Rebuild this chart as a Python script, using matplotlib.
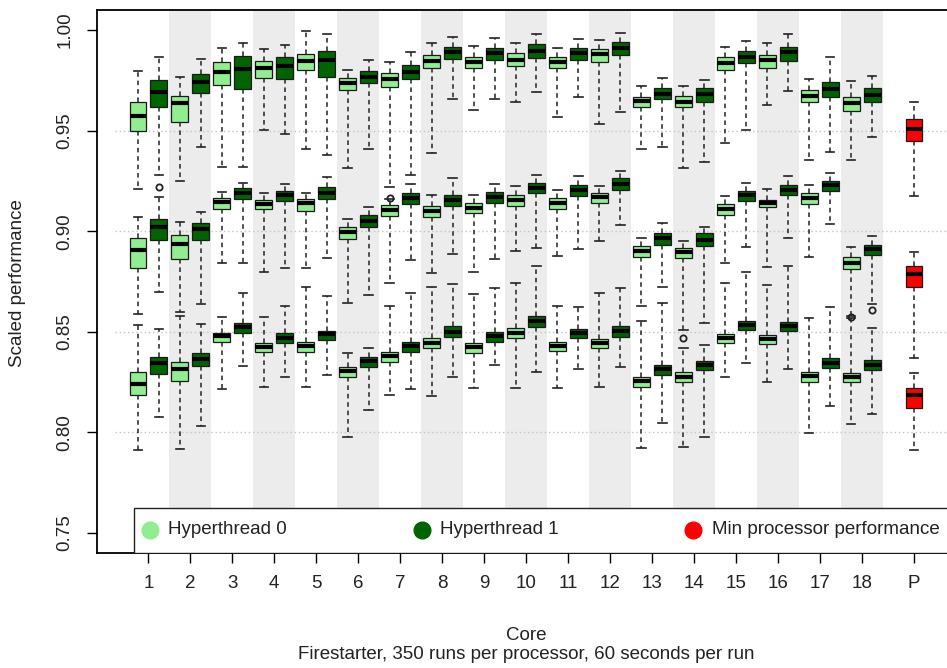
import matplotlib
matplotlib.use("Agg")
import matplotlib.pyplot as plt
from matplotlib.patches import Rectangle
import numpy as np

plt.rcParams['font.family'] = ['Liberation Sans', 'DejaVu Sans']

# core labels on the x axis
core_labels = [str(i) for i in range(1, 19)] + ["P"]

# box stats per core: (whisker low, q1, median, q3, whisker high)
hi_ht0 = [(0.921, 0.9498, 0.9573, 0.9642, 0.9796), (0.925, 0.9543, 0.9637, 0.9672, 0.9766),
          (0.932, 0.9727, 0.9791, 0.9841, 0.9911), (0.9503, 0.9762, 0.9811, 0.9846, 0.9906),
          (0.9409, 0.9801, 0.9846, 0.9881, 0.9995), (0.9314, 0.9702, 0.9737, 0.9762, 0.9801),
          (0.922, 0.9717, 0.9756, 0.9786, 0.9841), (0.9389, 0.9811, 0.9846, 0.9876, 0.9935),
          (0.9602, 0.9811, 0.9841, 0.9866, 0.992), (0.9642, 0.9821, 0.9851, 0.9886, 0.9935),
          (0.9568, 0.9811, 0.9841, 0.9866, 0.9911), (0.9533, 0.9841, 0.9881, 0.9906, 0.995),
          (0.9409, 0.9617, 0.9647, 0.9667, 0.9722), (0.9314, 0.9617, 0.9642, 0.9672, 0.9722),
          (0.9438, 0.9801, 0.9836, 0.9866, 0.9916), (0.9627, 0.9811, 0.9851, 0.9876, 0.9935),
          (0.9354, 0.9642, 0.9672, 0.9702, 0.9756), (0.9354, 0.9597, 0.9637, 0.9667, 0.9746)]
hi_ht1 = [(0.928, 0.9617, 0.9692, 0.9752, 0.9866), (0.9419, 0.9687, 0.9742, 0.9781, 0.9856),
          (0.932, 0.9707, 0.9806, 0.9871, 0.9935), (0.9483, 0.9756, 0.9821, 0.9866, 0.9925),
          (0.9379, 0.9766, 0.9851, 0.9896, 0.998), (0.9409, 0.9737, 0.9766, 0.9796, 0.9851),
          (0.9279, 0.9756, 0.9791, 0.9826, 0.9891), (0.9657, 0.9856, 0.9891, 0.9916, 0.9965),
          (0.9657, 0.9851, 0.9886, 0.9911, 0.996), (0.9692, 0.9861, 0.9896, 0.993, 0.998),
          (0.9667, 0.9851, 0.9886, 0.9911, 0.9955), (0.9592, 0.9876, 0.9911, 0.994, 0.9985),
          (0.9418, 0.9657, 0.9682, 0.9712, 0.9761), (0.9344, 0.9642, 0.9682, 0.9712, 0.9751),
          (0.9503, 0.9836, 0.9866, 0.9896, 0.9945), (0.9697, 0.9846, 0.9891, 0.9916, 0.998),
          (0.9394, 0.9667, 0.9707, 0.9742, 0.9866), (0.9468, 0.9642, 0.9677, 0.9712, 0.9771)]
mid_ht0 = [(0.8588, 0.8815, 0.8907, 0.8968, 0.9072), (0.8600, 0.886, 0.8936, 0.8981, 0.9047),
           (0.8844, 0.9109, 0.9144, 0.9163, 0.9197), (0.8799, 0.9109, 0.9134, 0.9155, 0.9192),
           (0.8815, 0.9102, 0.9139, 0.9158, 0.9188), (0.8645, 0.896, 0.8998, 0.9023, 0.9059),
           (0.8744, 0.9076, 0.9105, 0.913, 0.916), (0.8794, 0.9072, 0.91, 0.9125, 0.918),
           (0.8799, 0.9089, 0.9114, 0.9139, 0.918), (0.8903, 0.9125, 0.9155, 0.918, 0.9225),
           (0.8877, 0.9109, 0.9139, 0.9163, 0.9205), (0.8953, 0.9139, 0.9168, 0.9192, 0.9225),
           (0.8628, 0.887, 0.8903, 0.8926, 0.8965), (0.851, 0.8865, 0.8898, 0.8915, 0.8951),
           (0.8844, 0.9081, 0.9109, 0.9134, 0.9175), (0.8824, 0.9119, 0.9139, 0.9155, 0.9208),
           (0.8873, 0.9135, 0.9163, 0.9188, 0.923), (0.858, 0.881, 0.884, 0.887, 0.892)]
mid_ht1 = [(0.8699, 0.8956, 0.9023, 0.906, 0.917), (0.8636, 0.8956, 0.9009, 0.9039, 0.9097),
           (0.884, 0.9158, 0.9188, 0.9213, 0.9241), (0.8815, 0.9152, 0.918, 0.9202, 0.9235),
           (0.8865, 0.9158, 0.9192, 0.9221, 0.9271), (0.8683, 0.9023, 0.9052, 0.9081, 0.9122),
           (0.8857, 0.9135, 0.9163, 0.9188, 0.9235), (0.8887, 0.9125, 0.9155, 0.918, 0.9263),
           (0.886, 0.9142, 0.9172, 0.9197, 0.9235), (0.8915, 0.9188, 0.9213, 0.9241, 0.9279),
           (0.8912, 0.9175, 0.9205, 0.923, 0.9274), (0.9031, 0.9205, 0.9235, 0.9263, 0.9301),
           (0.8724, 0.8931, 0.8965, 0.8993, 0.9039), (0.8542, 0.8926, 0.8956, 0.8989, 0.9023),
           (0.8923, 0.9152, 0.918, 0.9202, 0.9238), (0.8965, 0.918, 0.9205, 0.923, 0.9274),
           (0.9036, 0.9202, 0.923, 0.9251, 0.9291), (0.864, 0.8882, 0.891, 0.8931, 0.8976)]
lo_ht0 = [(0.7912, 0.8186, 0.824, 0.8302, 0.8534), (0.7915, 0.8255, 0.8313, 0.8351, 0.858),
          (0.8214, 0.8451, 0.8479, 0.8496, 0.8575), (0.8224, 0.8401, 0.8426, 0.8446, 0.8572),
          (0.8227, 0.8401, 0.8431, 0.8451, 0.8721), (0.7979, 0.8277, 0.8307, 0.8327, 0.8396),
          (0.8186, 0.8351, 0.8381, 0.8401, 0.8628), (0.818, 0.8418, 0.8443, 0.8467, 0.8721),
          (0.8219, 0.8396, 0.8423, 0.8443, 0.8688), (0.8219, 0.8467, 0.8496, 0.8517, 0.8741),
          (0.8219, 0.8404, 0.8431, 0.8451, 0.8628), (0.8224, 0.8418, 0.8443, 0.8462, 0.8691),
          (0.792, 0.8227, 0.8257, 0.8273, 0.8555), (0.7929, 0.8252, 0.8277, 0.8302, 0.842),
          (0.8273, 0.8443, 0.8467, 0.8489, 0.8741), (0.8252, 0.8439, 0.8462, 0.8484, 0.8733),
          (0.7999, 0.8252, 0.828, 0.8302, 0.857), (0.8042, 0.8252, 0.8277, 0.8297, 0.857)]
lo_ht1 = [(0.8078, 0.829, 0.8347, 0.8373, 0.8512), (0.8032, 0.833, 0.8363, 0.8396, 0.8539),
          (0.833, 0.8496, 0.8525, 0.8542, 0.8691), (0.8277, 0.8443, 0.8471, 0.8492, 0.8628),
          (0.8285, 0.8459, 0.8487, 0.8506, 0.8678), (0.8111, 0.8323, 0.8355, 0.8376, 0.8421),
          (0.8214, 0.8401, 0.8429, 0.8451, 0.8694), (0.8273, 0.8472, 0.8501, 0.8529, 0.8738),
          (0.8335, 0.8451, 0.8479, 0.8501, 0.8716), (0.8302, 0.8525, 0.8555, 0.8578, 0.8827),
          (0.8313, 0.8467, 0.8492, 0.8514, 0.8621), (0.8327, 0.8476, 0.8504, 0.8529, 0.8716),
          (0.8048, 0.8285, 0.8313, 0.8335, 0.8645), (0.7979, 0.831, 0.8335, 0.8357, 0.8434),
          (0.8347, 0.8509, 0.8534, 0.8555, 0.8799), (0.8315, 0.8506, 0.853, 0.855, 0.8827),
          (0.8131, 0.8318, 0.8347, 0.8368, 0.8621), (0.8091, 0.831, 0.8335, 0.836, 0.852)]
# min processor performance, one box per band
proc_min = [(0.9175, 0.9448, 0.9508, 0.9558, 0.9642),
            (0.8371, 0.8724, 0.8787, 0.8827, 0.8898),
            (0.7912, 0.812, 0.8186, 0.8219, 0.8297)]

# outliers: (band rows, core number, value)
outliers = [(mid_ht1, 1, 0.922), (mid_ht0, 7, 0.9165), (mid_ht0, 14, 0.847),
            (mid_ht1, 18, 0.861), (lo_ht0, 18, 0.8575)]

ht0_color = "#90EE90"
ht1_color = "#006400"
proc_color = "#FF0000"


def to_stats(rows):
    out = []
    for i, (lo, q1, med, q3, hi) in enumerate(rows):
        fl = [v for r, c, v in outliers if r is rows and c == i + 1]
        out.append(dict(whislo=lo, q1=q1, med=med, q3=q3, whishi=hi, fliers=fl))
    return out


def draw(ax, rows, pos, color):
    ax.bxp(to_stats(rows), positions=pos, widths=0.8, capwidths=0.4,
           patch_artist=True, manage_ticks=False,
           boxprops=dict(facecolor=color, edgecolor="#1a1a1a", linewidth=0.9),
           medianprops=dict(color="black", linewidth=3, solid_capstyle="butt"),
           whiskerprops=dict(color="#222222", linewidth=1.1, linestyle=(0, (3, 2.5))),
           capprops=dict(color="#222222", linewidth=1.2),
           flierprops=dict(marker="o", markersize=4.5, markerfacecolor="none",
                           markeredgecolor="#222222", markeredgewidth=1.3),
           zorder=3)


fig = plt.figure(figsize=(9.47, 6.68), dpi=100)
ax = fig.add_axes([97 / 947, 115 / 668, 858 / 947, 543 / 668])

n = len(hi_ht0)
pos0 = 2 * np.arange(1, n + 1) - 1
pos1 = 2 * np.arange(1, n + 1)
ppos = 2 * n + 2

# shading behind even cores
for k in range(2, n + 1, 2):
    ax.axvspan(2 * k - 1.5, 2 * k + 0.5, color="#ECECEC", lw=0, zorder=0)

ax.hlines([0.80, 0.85, 0.90, 0.95], -0.1, 41, colors="#c4c4c4",
          linestyles=(0, (1, 2)), linewidth=1, zorder=1)

for rows0, rows1 in [(hi_ht0, hi_ht1), (mid_ht0, mid_ht1), (lo_ht0, lo_ht1)]:
    draw(ax, rows0, pos0, ht0_color)
    draw(ax, rows1, pos1, ht1_color)
draw(ax, proc_min, [ppos] * 3, proc_color)

ax.set_xlim(-0.95, 39.95)
ax.set_ylim(0.74, 1.01)

ax.set_xticks(list((pos0 + pos1) / 2) + [ppos])
ax.set_xticklabels(core_labels)
ax.set_yticks([0.75, 0.80, 0.85, 0.90, 0.95, 1.00])
ax.set_yticklabels(["0.75", "0.80", "0.85", "0.90", "0.95", "1.00"],
                   rotation=90, va="center")
ax.tick_params(axis="both", direction="out", length=7, width=1,
               labelsize=13.5, labelcolor="#222222")
ax.tick_params(axis="x", pad=9)
ax.tick_params(axis="y", pad=10)

ax.spines["right"].set_visible(False)
for s in ["top", "left", "bottom"]:
    ax.spines[s].set_linewidth(1.3)

# legend box along the bottom of the plot
ax.add_patch(Rectangle((37 / 858, 0), 1.0, 45 / 543, transform=ax.transAxes,
                       facecolor="white", edgecolor="#222222", linewidth=1, zorder=5))
legend_items = [("Hyperthread 0", ht0_color, 0.0618, 0.0828),
                ("Hyperthread 1", ht1_color, 0.3788, 0.3998),
                ("Min processor performance", proc_color, 0.6946, 0.7168)]
for label, color, mx, tx in legend_items:
    ax.plot([mx], [0.0424], "o", color=color, markersize=12, transform=ax.transAxes,
            zorder=6, clip_on=False)
    ax.text(tx, 0.0424, label, transform=ax.transAxes, fontsize=13.5, color="#222222",
            va="center", ha="left", zorder=6)

fig.text(18 / 947, 0.5763, "Scaled performance", rotation=90, ha="center", va="center",
         fontsize=13.5, color="#222222")
fig.text(526 / 947, 0.0419, "Core", ha="center", va="baseline", fontsize=13.5, color="#222222")
fig.text(526 / 947, 0.0135, "Firestarter, 350 runs per processor, 60 seconds per run",
         ha="center", va="baseline", fontsize=13.5, color="#222222")

fig.savefig("out.png", dpi=100)
